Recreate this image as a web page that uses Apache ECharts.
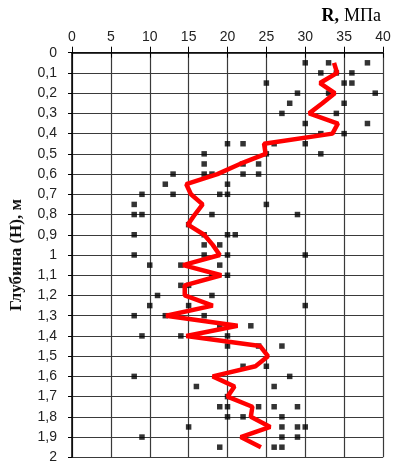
<!DOCTYPE html>
<html><head><meta charset="utf-8">
<script src="https://cdn.jsdelivr.net/npm/echarts@6/dist/echarts.min.js"></script>
<style>html,body{margin:0;padding:0;background:#fff}#c{width:395px;height:465px}</style>
</head><body><div id="c"></div>
<script>
// Red line: depth (m) and R (MPa)
const lineDepth = [0.05,0.1,0.15,0.2,0.25,0.3,0.35,0.4,0.45,0.5,0.55,0.6,0.65,0.7,0.75,0.8,0.85,0.9,0.95,1.0,1.05,1.1,1.15,1.2,1.25,1.3,1.35,1.4,1.45,1.5,1.55,1.6,1.65,1.7,1.75,1.8,1.85,1.9,1.95];
const lineR     = [33.7,34.1,31.9,33.8,32.2,30.5,34.2,33.5,24.7,24.9,21.6,18.7,14.7,15.3,16.8,15.8,14.9,17.0,18.1,19.0,14.3,19.2,14.5,14.5,18.1,12.1,21.3,14.7,24.2,25.2,23.6,18.1,20.9,20.0,23.2,23.0,25.5,21.7,24.3];
// Measured points
const pointDepth = [0.05,0.05,0.05, 0.1,0.1,0.1, 0.15,0.15,0.15, 0.2,0.2,0.2, 0.25,0.25, 0.3,0.3, 0.35,0.35, 0.4,0.4,
  0.45,0.45,0.45,0.45, 0.5,0.5,0.5, 0.55,0.55,0.55, 0.6,0.6,0.6,0.6,0.6, 0.65,0.65, 0.7,0.7,0.7,0.7, 0.75,0.75,
  0.8,0.8,0.8,0.8, 0.85, 0.9,0.9,0.9,0.9, 0.95,0.95, 1.0,1.0,1.0,1.0, 1.05,1.05,1.05, 1.1,1.1, 1.15,1.15, 1.2,1.2,
  1.25,1.25,1.25, 1.3,1.3,1.3, 1.35,1.35, 1.4,1.4,1.4,1.4, 1.45,1.45,1.45, 1.55,1.55, 1.6,1.6, 1.65,1.65, 1.7,
  1.75,1.75,1.75,1.75,1.75, 1.8,1.8,1.8, 1.85,1.85,1.85,1.85, 1.9,1.9,1.9, 1.95,1.95,1.95];
const pointR = [30,33,38, 32,34,36, 25,35,36, 29,33,39, 28,35, 27,34, 30,38, 32,35,
  20,22,26,30, 17,25,32, 17,22,24, 13,17,18,22,24, 12,20, 9,13,19,20, 8,25,
  8,9,18,29, 15, 8,17,20,21, 17,19, 8,17,20,30, 10,14,19, 18,20, 14,15, 11,18,
  10,15,30, 8,12,17, 19,23, 9,14,16,20, 20,24,27, 22,25, 8,28, 16,26, 20,
  19,20,24,26,29, 20,22,27, 15,27,29,30, 9,27,29, 19,26,27];
const xTicks = {min:0, max:40, step:5};
const yTicks = {min:0, max:2, step:0.1};

const lineData = lineDepth.map((d,i)=>[lineR[i], d]);
const pointData = pointDepth.map((d,i)=>[pointR[i], d]);
const fmtY = v => { const r = Math.round(v*10)/10; return String(r).replace('.', ','); };

const chart = echarts.init(document.getElementById('c'), null, {renderer:'canvas'});
chart.setOption({
  animation:false,
  backgroundColor:'#fff',
  title:{
    right:9, top:2,
    text:'{b|R,} {n|МПа}',
    textStyle:{fontWeight:'normal', rich:{
      b:{fontFamily:'Liberation Serif', fontWeight:'bold', fontSize:18, color:'#000'},
      n:{fontFamily:'Liberation Serif', fontWeight:'normal', fontSize:18, color:'#000'}
    }}
  },
  grid:{left:70, right:12, top:52.7, bottom:7.7, containLabel:false},
  xAxis:[{
    type:'value', position:'top', min:xTicks.min, max:xTicks.max, interval:xTicks.step,
    axisLine:{show:true, lineStyle:{color:'#000', width:1.5}},
    axisTick:{show:true, length:6, lineStyle:{color:'#000'}},
    axisLabel:{margin:9, fontFamily:'Liberation Sans', fontSize:14, color:'#222'},
    splitLine:{show:true, lineStyle:{color:'#3a3a3a', width:1.2}}
  },{
    type:'value', position:'top', min:xTicks.min, max:xTicks.max, interval:xTicks.step,
    axisLine:{show:false},
    axisTick:{show:true, inside:true, length:5, lineStyle:{color:'#000'}},
    axisLabel:{show:false}, splitLine:{show:false}
  }],
  yAxis:{
    type:'value', inverse:true, min:yTicks.min, max:yTicks.max, interval:yTicks.step,
    name:'Глубина (Н), м', nameLocation:'middle', nameRotate:90, nameGap:47,
    nameTextStyle:{fontFamily:'Liberation Serif', fontWeight:'bold', fontSize:17, color:'#111'},
    axisLine:{show:true, lineStyle:{color:'#000', width:1.5}},
    axisTick:{show:true, length:4, lineStyle:{color:'#000'}},
    axisLabel:{margin:15, fontFamily:'Liberation Sans', fontSize:14, color:'#222', formatter:fmtY},
    splitLine:{show:true, lineStyle:{color:'#3a3a3a', width:1.2}}
  },
  series:[{
    type:'scatter', data:pointData, symbol:'rect', symbolSize:5.5,
    itemStyle:{color:'#000'}, z:3
  },{
    type:'line', data:lineData, symbol:'none',
    lineStyle:{color:'#ff0000', width:4.5}, z:4
  }]
});
</script></body></html>
